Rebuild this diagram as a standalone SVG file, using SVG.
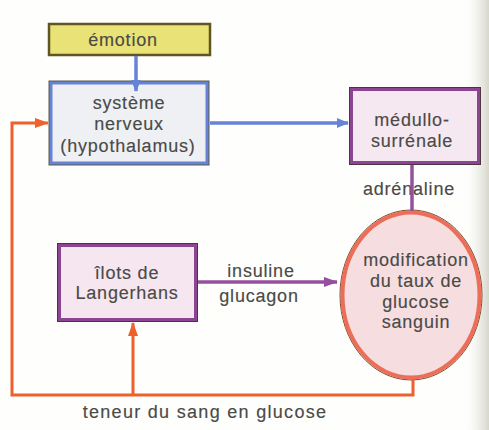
<svg xmlns="http://www.w3.org/2000/svg" width="489" height="430" viewBox="0 0 489 430">
<defs>
<style>
text{font-family:"Liberation Sans",Arial,sans-serif;font-size:18px;fill:#4a4a46;stroke:#4a4a46;stroke-width:0.15;letter-spacing:0.8px;text-anchor:middle}
.blue{stroke:#6683d6;stroke-width:3.5;fill:none}
.purple{stroke:#94509c;stroke-width:3.5;fill:none}
.orange{stroke:#f0602c;stroke-width:3;fill:none}
</style>
<linearGradient id="edge" x1="0" y1="0" x2="1" y2="0">
<stop offset="0" stop-color="#ffffff" stop-opacity="0"/>
<stop offset="1" stop-color="#d6d6cc"/>
</linearGradient>
<marker id="ab" markerWidth="12" markerHeight="10" refX="11" refY="5" orient="auto" markerUnits="userSpaceOnUse">
<path d="M0,0 L12,5 L0,10 Z" fill="#6683d6"/>
</marker>
<marker id="ap" markerWidth="14" markerHeight="10" refX="13" refY="5" orient="auto" markerUnits="userSpaceOnUse">
<path d="M0,0 L14,5 L0,10 Z" fill="#94509c"/>
</marker>
<marker id="ao" markerWidth="14" markerHeight="10" refX="13" refY="5" orient="auto" markerUnits="userSpaceOnUse">
<path d="M0,0 L14,5 L0,10 Z" fill="#f0602c"/>
</marker>
</defs>
<rect width="489" height="430" fill="#fefefc"/>
<rect x="462" y="0" width="27" height="430" fill="url(#edge)"/>

<g id="emotion">
<rect x="49" y="24" width="161" height="31" fill="#e9e276" stroke="#5e5624" stroke-width="2.5"/>
<text x="123" y="46">émotion</text>
</g>

<g id="systeme">
<rect x="48.5" y="80.5" width="161" height="85" fill="#5c5a48"/>
<rect x="51" y="83" width="156" height="80" fill="#eef0f4" stroke="#6683d6" stroke-width="3"/>
<text x="129" y="109">système</text>
<text x="129" y="130">nerveux</text>
<text x="128" y="152">(hypothalamus)</text>
</g>

<g id="medullo">
<rect x="349" y="87" width="132" height="78" fill="#4c3446"/>
<rect x="351.5" y="89.5" width="127" height="73" fill="#f5e8f1" stroke="#8a4690" stroke-width="3"/>
<text x="412" y="126">médullo-</text>
<text x="412" y="147">surrénale</text>
</g>

<g id="ilots">
<rect x="57" y="243" width="141" height="79" fill="#4c3446"/>
<rect x="59.5" y="245.5" width="136" height="74" fill="#f5e6f0" stroke="#8a4690" stroke-width="3"/>
<text x="127" y="279">îlots de</text>
<text x="127" y="299">Langerhans</text>
</g>

<g id="glucose">
<ellipse cx="411" cy="295" rx="71" ry="85" fill="#f6dde0" stroke="#7a4a2a" stroke-width="1"/>
<ellipse cx="411" cy="295" rx="68.5" ry="82.5" fill="none" stroke="#ec6e58" stroke-width="4"/>
<text x="416" y="266">modification</text>
<text x="416" y="287">du taux de</text>
<text x="416" y="308">glucose</text>
<text x="416" y="328">sanguin</text>
</g>

<g id="connectors">
<path class="blue" d="M136,56 V91" marker-end="url(#ab)"/>
<path class="blue" d="M210,123 H348" marker-end="url(#ab)"/>
<path class="purple" d="M198,282 H337" marker-end="url(#ap)"/>
<path class="orange" d="M413,379 V395 H12 V123 H48" marker-end="url(#ao)"/>
<path class="orange" d="M133,395 V323" marker-end="url(#ao)"/>
<text x="409" y="195">adrénaline</text>
<path class="purple" d="M412,165 V211"/>
<text x="261" y="277">insuline</text>
<text x="259" y="302">glucagon</text>
<text x="205" y="418" style="letter-spacing:1.3px">teneur du sang en glucose</text>
</g>
</svg>
